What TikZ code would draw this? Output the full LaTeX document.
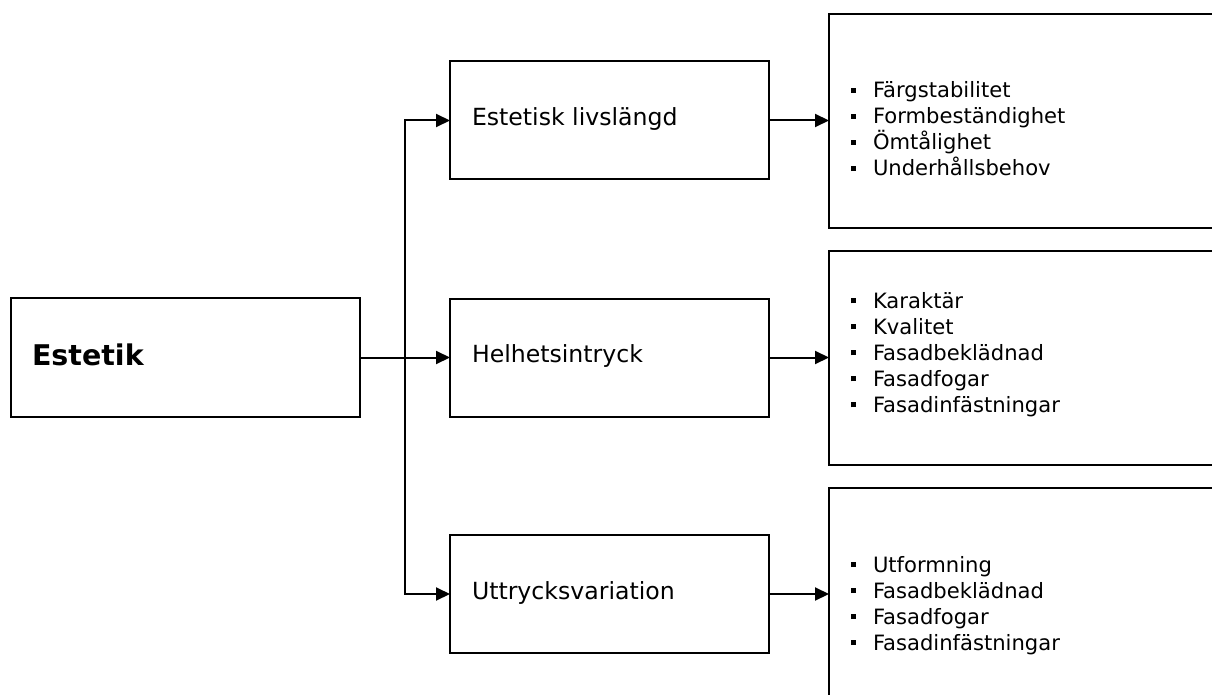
\documentclass[tikz,border=0pt]{standalone}
\usepackage{fontspec}
\setmainfont{DejaVu Sans}
\usetikzlibrary{arrows.meta}
% square list marker followed by the gap before the item text
\newcommand\sqbullet{\rule[5pt]{5pt}{5pt}\hspace{17pt}}
\begin{document}
\begin{tikzpicture}[x=1pt,y=-1pt,
  frame/.style={draw, line width=2pt, inner sep=0pt, outer sep=0pt, anchor=north west},
  link/.style={line width=2pt, -{Triangle[length=14pt,width=13pt]}},
  lbl/.style={anchor=base west, inner sep=0pt, outer sep=0pt},
  head/.style={lbl, font=\fontsize{28.5}{34}\selectfont\bfseries},
  mid/.style={lbl, font=\fontsize{23.6}{28}\selectfont},
  item/.style={lbl, font=\fontsize{21.1}{26}\selectfont},
]
\useasboundingbox (0,0) rectangle (1212,695);
\clip (0,0) rectangle (1212,695);

% main topic
\node[frame, minimum width=349pt, minimum height=119pt] (est) at (11,298) {};
\node[head] (estT) at (32,365) {Estetik};

% aspects
\node[frame, minimum width=319pt, minimum height=118pt] (m1) at (450,61.5) {};
\node[frame, minimum width=319pt, minimum height=118pt] (m2) at (450,298.5) {};
\node[frame, minimum width=319pt, minimum height=118pt] (m3) at (450,535) {};
\node[mid] (m1T) at (472,125.5) {Estetisk livslängd};
\node[mid] (m2T) at (472,362.5) {Helhetsintryck};
\node[mid] (m3T) at (472,599) {Uttrycksvariation};

% criteria lists (run past the right edge)
\node[frame, minimum width=420pt, minimum height=214pt] (r1) at (829,14) {};
\node[frame, minimum width=420pt, minimum height=214pt] (r2) at (829,251) {};
\node[frame, minimum width=420pt, minimum height=214pt] (r3) at (829,487.5) {};

\foreach \t [count=\i] in {Färgstabilitet, Formbeständighet, Ömtålighet, Underhållsbehov}
  \node[item] (a\i) at (851,{98+26*(\i-1)}) {\sqbullet\t};
\foreach \t [count=\i] in {Karaktär, Kvalitet, Fasadbeklädnad, Fasadfogar, Fasadinfästningar}
  \node[item] (b\i) at (851,{308.3+26*(\i-1)}) {\sqbullet\t};
\foreach \t [count=\i] in {Utformning, Fasadbeklädnad, Fasadfogar, Fasadinfästningar}
  \node[item] (c\i) at (851,{572+26*(\i-1)}) {\sqbullet\t};

% connectors
\coordinate (j) at (405,357.5);
\draw[link] (est.east) -- (m2.west);
\draw[link] (j) |- (m1.west);
\draw[link] (j) |- (m3.west);
\draw[link] (m1.east) -- (m1.east -| r1.west);
\draw[link] (m2.east) -- (m2.east -| r2.west);
\draw[link] (m3.east) -- (m3.east -| r3.west);
\end{tikzpicture}
\end{document}
